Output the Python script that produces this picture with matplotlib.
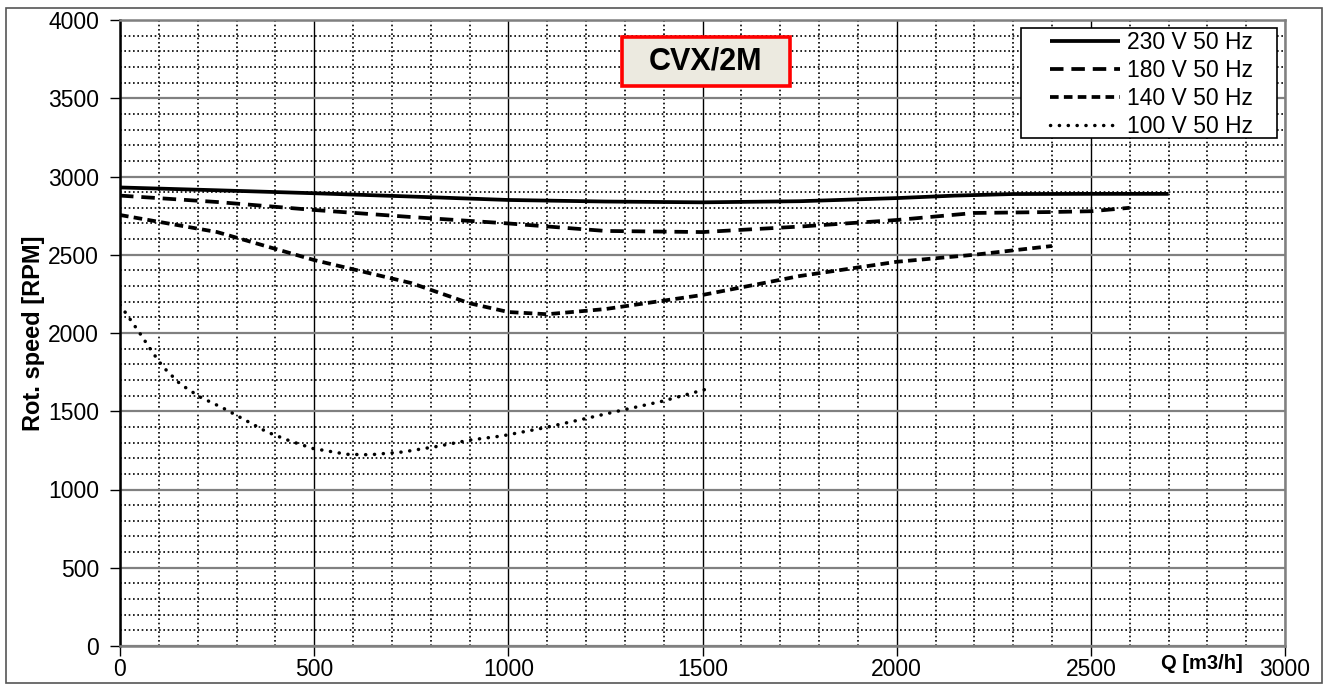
import numpy as np
import matplotlib.pyplot as plt
from matplotlib.patches import Rectangle
from matplotlib.ticker import MultipleLocator

plt.rcParams['font.family'] = ['Liberation Sans', 'DejaVu Sans']

# curves: Q [m3/h] vs rot. speed [RPM]
q_230 = [0, 250, 500, 750, 1000, 1250, 1500, 1750, 2000, 2150, 2300, 2500, 2700]
n_230 = [2930, 2912, 2893, 2872, 2850, 2840, 2835, 2842, 2862, 2878, 2888, 2889, 2889]

q_180 = [0, 250, 500, 750, 1000, 1250, 1500, 1750, 2000, 2200, 2400, 2500, 2600]
n_180 = [2878, 2837, 2786, 2741, 2700, 2652, 2645, 2680, 2722, 2767, 2773, 2778, 2800]

q_140 = [0, 250, 500, 750, 900, 1000, 1100, 1250, 1500, 1750, 2000, 2200, 2400]
n_140 = [2754, 2645, 2466, 2319, 2190, 2134, 2120, 2153, 2243, 2364, 2455, 2500, 2556]

q_100 = [0, 13, 49, 85, 111, 155, 206, 265, 322, 379, 438, 497, 584, 644,
         729, 816, 901, 983, 1090, 1193, 1295, 1398, 1502, 1524]
n_100 = [2180, 2134, 2006, 1872, 1783, 1674, 1591, 1521, 1444, 1367, 1310, 1262, 1225, 1222,
         1240, 1275, 1316, 1342, 1393, 1450, 1508, 1565, 1636, 1649]

labels = ['230 V 50 Hz', '180 V 50 Hz', '140 V 50 Hz', '100 V 50 Hz']
model = 'CVX/2M'

W, H = 1328, 684
fig = plt.figure(figsize=(W / 100, H / 100), dpi=100)
fig.patches.append(Rectangle((6 / W, 0.002), 1316 / W, 1 - 8 / H - 0.002,
                             transform=fig.transFigure, fill=False,
                             edgecolor='#555555', linewidth=1.2))
ax = fig.add_axes([120 / W, 38 / H, 1165 / W, 626 / H])

ax.plot(q_230, n_230, color='black', lw=2.7, label=labels[0], solid_capstyle='butt')
ax.plot(q_180, n_180, color='black', lw=2.7, dashes=(3.6, 2.1), label=labels[1])
ax.plot(q_140, n_140, color='black', lw=2.7, dashes=(2.3, 1.4), label=labels[2])
ax.plot(q_100, n_100, color='black', lw=2.5, dashes=(0.05, 2.5),
        dash_capstyle='round', label=labels[3])

ax.set_xlim(0, 3000)
ax.set_ylim(0, 4000)
ax.xaxis.set_major_locator(MultipleLocator(500))
ax.yaxis.set_major_locator(MultipleLocator(500))
ax.xaxis.set_minor_locator(MultipleLocator(100))
ax.yaxis.set_minor_locator(MultipleLocator(100))

ax.grid(which='minor', color='black', linestyle=(0, (1, 1.6)), linewidth=1.2)
ax.xaxis.grid(which='major', color='black', linestyle='-', linewidth=1.0)
ax.yaxis.grid(which='major', color='#808080', linestyle='-', linewidth=1.6)
ax.set_axisbelow(True)

ax.tick_params(which='minor', length=0)
ax.tick_params(which='major', direction='out', length=7, width=1, color='black',
               labelsize=16.5, pad=8)
ax.tick_params(axis='x', pad=2)

ax.spines['left'].set_color('black')
ax.spines['left'].set_linewidth(1.8)
for s in ('top', 'right', 'bottom'):
    ax.spines[s].set_color('#808080')
    ax.spines[s].set_linewidth(1.8)

ax.set_ylabel('Rot. speed [RPM]', fontsize=17, fontweight='bold', labelpad=2)
ax.text(2890, -112, 'Q [m3/h]', fontsize=14.5, fontweight='bold',
        ha='right', va='center', clip_on=False)

# model name box
ax.add_patch(Rectangle((1293, 3578), 432, 313, facecolor='#ECEAE0',
                       edgecolor='#FF0000', linewidth=2.6, zorder=4))
ax.text(1509, 3735, model, fontsize=22, fontweight='bold', ha='center', va='center',
        zorder=5)

leg = ax.legend(loc='upper right', bbox_to_anchor=((1260 - 120) / 1165, (646 - 24) / 626),
                fontsize=16.5, frameon=False, handlelength=3.05, handletextpad=0.3,
                borderpad=0.3, labelspacing=0.22, borderaxespad=0)

# legend frame drawn by hand: wider side padding than the legend's own frame
to_ax = ax.transAxes.inverted()
(fx0, fy0), (fx1, fy1) = to_ax.transform([(1021, H - 138), (1277, H - 28)])
ax.add_patch(Rectangle((fx0, fy0), fx1 - fx0, fy1 - fy0, transform=ax.transAxes,
                       facecolor='white', edgecolor='black', linewidth=1.2,
                       zorder=4.5, clip_on=False))

fig.savefig('out.png', dpi=100)
